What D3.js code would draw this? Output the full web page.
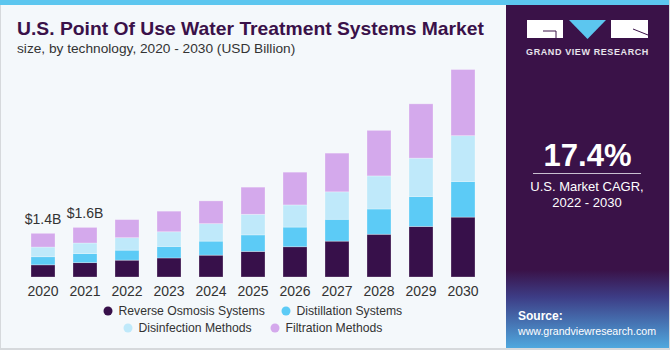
<!DOCTYPE html>
<html>
<head>
  <meta charset="utf-8">
  <style>
    body { margin: 0; background: #fff; }
    svg { display: block; font-family: "Liberation Sans", Arial, sans-serif; }
    .tick text { font-size: 14px; fill: #333; }
    .legend text { font-size: 12.2px; fill: #333; }
  </style>
  <script src="https://cdn.jsdelivr.net/npm/d3@7"></script>
</head>
<body>
  <svg width="670" height="350"></svg>
  <script>
    // values (USD billion)
    var years = ["2020", "2021", "2022", "2023", "2024", "2025", "2026", "2027", "2028", "2029", "2030"];
    var reverseOsmosis = [0.39, 0.46, 0.54, 0.61, 0.70, 0.82, 0.97, 1.15, 1.37, 1.62, 1.92];
    var distillation   = [0.26, 0.29, 0.32, 0.37, 0.45, 0.53, 0.63, 0.70, 0.81, 0.96, 1.14];
    var disinfection   = [0.31, 0.34, 0.40, 0.47, 0.56, 0.66, 0.71, 0.88, 1.06, 1.23, 1.47];
    var filtration     = [0.44, 0.50, 0.58, 0.66, 0.73, 0.87, 1.05, 1.24, 1.46, 1.74, 2.12];
    var seriesNames = ["Reverse Osmosis Systems", "Distillation Systems", "Disinfection Methods", "Filtration Methods"];
    var seriesColors = ["#37104a", "#5ccbf6", "#bfe9fa", "#d4a9ec"];
    var valueLabels = ["$1.4B", "$1.6B"];

    var svg = d3.select("svg");

    // background + frame
    svg.append("rect").attr("width", 670).attr("height", 350).attr("fill", "#f4f8fb");
    svg.append("rect").attr("x", 0).attr("y", 0).attr("width", 1).attr("height", 350).attr("fill", "#d6d9dc");
    svg.append("rect").attr("x", 0).attr("y", 348).attr("width", 670).attr("height", 2).attr("fill", "#d6d9dc");
    svg.append("rect").attr("x", 0).attr("y", 0).attr("width", 670).attr("height", 5).attr("fill", "#5cc6ef");

    // title
    svg.append("text").attr("x", 17).attr("y", 35)
      .attr("font-size", 18.5).attr("font-weight", "bold").attr("fill", "#3a1149")
      .attr("textLength", 467).attr("lengthAdjust", "spacingAndGlyphs")
      .text("U.S. Point Of Use Water Treatment Systems Market");
    svg.append("text").attr("x", 17).attr("y", 53)
      .attr("font-size", 13.7).attr("fill", "#333")
      .text("size, by technology, 2020 - 2030 (USD Billion)");

    // stacked bars
    var table = years.map(function (yr, i) {
      return { year: yr, s0: reverseOsmosis[i], s1: distillation[i], s2: disinfection[i], s3: filtration[i] };
    });
    var keys = ["s0", "s1", "s2", "s3"];
    var stacked = d3.stack().keys(keys)(table);

    var x = d3.scaleBand().domain(years).range([22, 484])
      .paddingInner(18 / 42).paddingOuter(9 / 42);
    var y = d3.scaleLinear().domain([0, 8]).range([277, 277 - 8 * 31.2]);

    var layer = svg.append("g").selectAll("g")
      .data(stacked)
      .enter().append("g")
      .attr("fill", function (d, i) { return seriesColors[i]; });

    layer.selectAll("rect")
      .data(function (d) { return d; })
      .enter().append("rect")
      .attr("x", function (d) { return x(d.data.year); })
      .attr("y", function (d) { return y(d[1]); })
      .attr("width", x.bandwidth())
      .attr("height", function (d) { return y(d[0]) - y(d[1]); })
      .attr("stroke", "#ffffff")
      .attr("stroke-opacity", 0.35)
      .attr("stroke-width", 0.8);

    // value labels on first two bars
    var topLayer = stacked[stacked.length - 1];
    svg.append("g").selectAll("text")
      .data(valueLabels)
      .enter().append("text")
      .attr("x", function (d, i) { return x(years[i]) + x.bandwidth() / 2; })
      .attr("y", function (d, i) { return y(topLayer[i][1]) - 9; })
      .attr("text-anchor", "middle")
      .attr("font-size", 14).attr("fill", "#333")
      .text(function (d) { return d; });

    // x axis
    var xAxis = svg.append("g").attr("transform", "translate(0,278)")
      .call(d3.axisBottom(x).tickSize(0).tickPadding(8));
    xAxis.select(".domain").remove();
    xAxis.selectAll("text").attr("font-family", "Liberation Sans, Arial, sans-serif");

    // legend
    var legendPos = [[108, 311], [286, 311], [128, 328], [275, 328]];
    var legend = svg.append("g").attr("class", "legend").selectAll("g")
      .data(seriesNames)
      .enter().append("g")
      .attr("transform", function (d, i) { return "translate(" + legendPos[i][0] + "," + legendPos[i][1] + ")"; });
    legend.append("circle").attr("r", 4.5).attr("fill", function (d, i) { return seriesColors[i]; });
    legend.append("text").attr("x", 10.5).attr("dy", "0.35em").text(function (d) { return d; });

    // right panel
    var defs = svg.append("defs");
    var grad = defs.append("linearGradient").attr("id", "src").attr("x1", 0).attr("y1", 0).attr("x2", 0).attr("y2", 1);
    grad.append("stop").attr("offset", "0%").attr("stop-color", "#3a1248");
    grad.append("stop").attr("offset", "35%").attr("stop-color", "#3d3d86");
    grad.append("stop").attr("offset", "100%").attr("stop-color", "#4fa8de");

    svg.append("rect").attr("x", 506).attr("y", 5).attr("width", 163).attr("height", 343).attr("fill", "#3a1248");
    svg.append("rect").attr("x", 506).attr("y", 270).attr("width", 163).attr("height", 78).attr("fill", "url(#src)");
    svg.append("rect").attr("x", 669).attr("y", 0).attr("width", 1).attr("height", 350).attr("fill", "#d6d9dc");

    // logo
    var logo = svg.append("g");
    logo.append("rect").attr("x", 527).attr("y", 20).attr("width", 36).attr("height", 18).attr("fill", "#fff");
    logo.append("path").attr("d", "M543,31 H556 V38").attr("fill", "none").attr("stroke", "#3a1248").attr("stroke-width", 1);
    logo.append("path").attr("d", "M569,20 L606,20 L587.5,39 Z").attr("fill", "#5cc6ef");
    logo.append("rect").attr("x", 611).attr("y", 20).attr("width", 37).attr("height", 18).attr("fill", "#fff");
    logo.append("path").attr("d", "M633,29 L648,35").attr("stroke", "#3a1248").attr("stroke-width", 1);
    logo.append("text").attr("x", 587.5).attr("y", 55).attr("text-anchor", "middle")
      .attr("font-size", 9).attr("font-weight", "bold").attr("fill", "#e8e4ec")
      .attr("letter-spacing", 0.6).text("GRAND VIEW RESEARCH");

    // CAGR
    svg.append("text").attr("x", 587.5).attr("y", 166).attr("text-anchor", "middle")
      .attr("font-size", 31).attr("font-weight", "bold").attr("fill", "#fff").text("17.4%");
    svg.append("line").attr("x1", 533).attr("x2", 641).attr("y1", 173.5).attr("y2", 173.5)
      .attr("stroke", "#c9bfd0").attr("stroke-width", 1);
    svg.append("text").attr("x", 587).attr("y", 191).attr("text-anchor", "middle")
      .attr("font-size", 13).attr("fill", "#fff").text("U.S. Market CAGR,");
    svg.append("text").attr("x", 587).attr("y", 207).attr("text-anchor", "middle")
      .attr("font-size", 13).attr("fill", "#fff").text("2022 - 2030");

    // source
    svg.append("text").attr("x", 518).attr("y", 320)
      .attr("font-size", 12).attr("font-weight", "bold").attr("fill", "#fff").text("Source:");
    svg.append("text").attr("x", 518).attr("y", 335)
      .attr("font-size", 11.5).attr("fill", "#fff")
      .attr("textLength", 138).attr("lengthAdjust", "spacingAndGlyphs")
      .text("www.grandviewresearch.com");
  </script>
</body>
</html>
